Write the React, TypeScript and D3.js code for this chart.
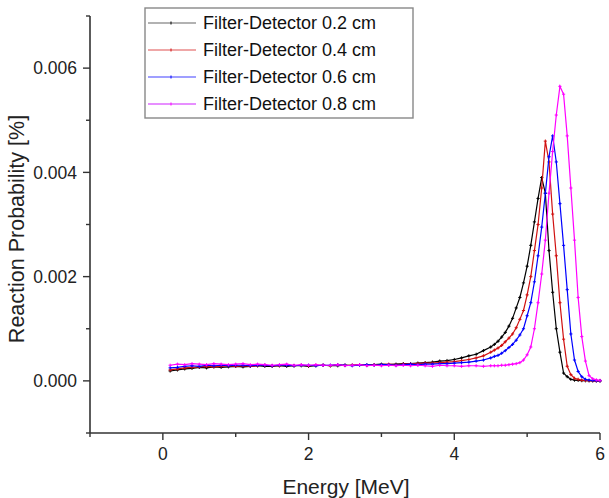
import React from "react";
import * as d3 from "d3";

const energy = [
  0.1, 0.2, 0.3, 0.4, 0.5, 0.6, 0.7, 0.8, 0.9, 1.0,
  1.1, 1.2, 1.3, 1.4, 1.5, 1.6, 1.7, 1.8, 1.9, 2.0,
  2.1, 2.2, 2.3, 2.4, 2.5, 2.6, 2.7, 2.8, 2.9, 3.0,
  3.1, 3.2, 3.3, 3.4, 3.5, 3.6, 3.7, 3.8, 3.9, 4.0,
  4.1, 4.2, 4.3, 4.4, 4.5,
  4.55, 4.6, 4.65, 4.7, 4.75, 4.8, 4.85, 4.9, 4.95, 5.0,
  5.05, 5.1, 5.15, 5.2, 5.25, 5.3, 5.35, 5.4, 5.45, 5.5,
  5.55, 5.6, 5.65, 5.7, 5.75, 5.8, 5.85, 5.9, 5.95, 6.0,
];

// values in units of 1e-4 (%)
const d02 = [
  1.9, 2.1, 2.3, 2.4, 2.6, 2.5, 2.7, 2.6, 2.7, 2.8,
  2.7, 2.8, 2.9, 2.8, 2.8, 2.9, 2.8, 2.9, 2.9, 2.8,
  2.9, 3.0, 2.9, 2.9, 3.0, 3.0, 3.1, 3.0, 3.1, 3.2,
  3.1, 3.2, 3.3, 3.3, 3.4, 3.5, 3.6, 3.8, 3.9, 4.1,
  4.4, 4.8, 5.1, 5.8, 6.5,
  7.0, 7.6, 8.4, 9.3, 10.5, 12.0, 14.0, 16.0, 18.8, 22.0,
  26.0, 30.5, 35.0, 39.0, 36.0, 25.0, 17.0, 10.0, 5.5, 1.5,
  0.8, 0.3, 0.15, 0.1, 0.05, 0.03, 0.02, 0.01, 0, 0,
];
const d04 = [
  2.1, 2.3, 2.5, 2.6, 2.7, 2.8, 2.7, 2.8, 2.9, 2.8,
  2.9, 2.8, 2.9, 3.0, 2.9, 2.9, 3.0, 2.9, 3.0, 2.9,
  3.0, 3.0, 2.9, 3.1, 3.0, 3.0, 3.1, 3.0, 3.1, 3.1,
  3.2, 3.1, 3.2, 3.3, 3.3, 3.4, 3.4, 3.5, 3.6, 3.7,
  3.9, 4.1, 4.4, 4.8, 5.5,
  5.9, 6.3, 6.8, 7.5, 8.2, 9.0, 10.2, 11.8, 13.5, 16.5,
  20.0, 25.0, 30.0, 37.0, 46.0, 42.0, 32.0, 24.0, 15.0, 8.0,
  2.8, 1.2, 0.5, 0.3, 0.15, 0.08, 0.05, 0.03, 0.01, 0,
];
const d06 = [
  2.5, 2.6, 2.8, 2.9, 2.8, 3.0, 2.9, 3.0, 2.9, 3.0,
  3.0, 2.9, 3.0, 3.0, 2.9, 3.0, 3.0, 2.9, 3.0, 3.0,
  2.9, 3.0, 3.0, 3.1, 3.0, 2.9, 3.0, 3.1, 3.0, 3.1,
  3.1, 3.0, 3.1, 3.2, 3.1, 3.2, 3.2, 3.3, 3.3, 3.4,
  3.5, 3.6, 3.8, 4.0, 4.4,
  4.7, 4.9, 5.3, 5.8, 6.4, 7.0, 7.8, 8.8, 10.0, 12.5,
  15.0, 19.0, 24.0, 29.5, 36.0, 43.0, 47.0, 42.0, 34.0, 26.0,
  17.5, 9.0, 4.0, 1.8, 0.8, 0.3, 0.15, 0.08, 0.04, 0.02,
];
const d08 = [
  3.0, 3.2, 3.1, 3.3, 3.2, 3.1, 3.3, 3.2, 3.1, 3.2,
  3.3, 3.1, 3.2, 3.1, 3.0, 3.1, 3.2, 3.0, 3.1, 3.0,
  3.1, 3.0, 3.0, 3.1, 2.9, 3.0, 3.1, 2.9, 3.0, 2.9,
  3.0, 2.9, 3.0, 2.9, 3.0, 2.9, 2.8, 3.0, 2.9, 2.9,
  2.8, 2.9, 2.9, 2.8, 2.9,
  2.9, 2.9, 3.0, 3.0, 3.1, 3.2, 3.3, 3.5, 4.0, 5.0,
  6.5, 10.0, 15.0, 20.5, 27.0, 36.0, 44.0, 51.0, 56.5, 55.0,
  47.0, 37.0, 27.0, 16.0, 8.5, 3.8, 1.0, 0.4, 0.2, 0.1,
];

const seriesNames = [
  "Filter-Detector 0.2 cm",
  "Filter-Detector 0.4 cm",
  "Filter-Detector 0.6 cm",
  "Filter-Detector 0.8 cm",
];
const seriesValues = [d02, d04, d06, d08];
const seriesColors = ["#000000", "#d01010", "#0000ff", "#ff00ff"];
const legendColors = ["#666666", "#e05050", "#4040ff", "#d020ff"];

const xMajor = [0, 2, 4, 6];
const xMinor = [-1, 1, 3, 5];
const yMajor = [0, 0.002, 0.004, 0.006];
const yMinor = [-0.001, 0.001, 0.003, 0.005, 0.007];

const UNIT = 1e-4;
const FONT = "Liberation Sans, Arial, sans-serif";

export default function App() {
  const x = d3.scaleLinear().domain([-1, 6]).range([90, 600]);
  const y = d3.scaleLinear().domain([-0.001, 0.007]).range([433, 16]);
  const line = d3
    .line<[number, number]>()
    .x((d) => x(d[0]))
    .y((d) => y(d[1]));
  const axisColor = "#333";
  const fmt = d3.format(".3f");

  return (
    <svg
      width={609}
      height={498}
      style={{ position: "absolute", left: 0, top: 0, background: "#fff" }}
      fontFamily={FONT}
    >
      <rect x={0} y={0} width={609} height={498} fill="#fff" />
      {/* series */}
      {seriesValues.map((vals, si) => {
        const pts: [number, number][] = energy.map((e, i) => [e, vals[i] * UNIT]);
        return (
          <g key={si}>
            <path d={line(pts) || ""} fill="none" stroke={seriesColors[si]} strokeWidth={1.2} />
            {pts.map((p, i) => (
              <path
                key={i}
                d={`M${x(p[0]) - 1.6},${y(p[1])}h3.2M${x(p[0])},${y(p[1]) - 1.6}v3.2`}
                stroke={seriesColors[si]}
                strokeWidth={1}
              />
            ))}
          </g>
        );
      })}
      {/* y axis */}
      <line x1={90} x2={90} y1={y(0.007)} y2={433} stroke={axisColor} strokeWidth={1.6} />
      {yMajor.map((v) => (
        <g key={"ym" + v}>
          <line x1={83} x2={90} y1={y(v)} y2={y(v)} stroke={axisColor} strokeWidth={1.4} />
          <text x={77} y={y(v)} dy="0.35em" textAnchor="end" fontSize={17.5} fill="#222">
            {fmt(v)}
          </text>
        </g>
      ))}
      {yMinor.map((v) => (
        <line key={"yn" + v} x1={86} x2={90} y1={y(v)} y2={y(v)} stroke={axisColor} strokeWidth={1.4} />
      ))}
      {/* x axis */}
      <line x1={x(-1)} x2={x(6)} y1={433} y2={433} stroke={axisColor} strokeWidth={1.6} />
      {xMajor.map((v) => (
        <g key={"xm" + v}>
          <line x1={x(v)} x2={x(v)} y1={433} y2={440} stroke={axisColor} strokeWidth={1.4} />
          <text x={x(v)} y={460} textAnchor="middle" fontSize={17.5} fill="#222">
            {v}
          </text>
        </g>
      ))}
      {xMinor.map((v) => (
        <line key={"xn" + v} x1={x(v)} x2={x(v)} y1={433} y2={437} stroke={axisColor} strokeWidth={1.4} />
      ))}
      {/* axis titles */}
      <text x={346} y={494} textAnchor="middle" fontSize={21} fill="#222">
        Energy [MeV]
      </text>
      <text
        transform={`translate(24,229) rotate(-90)`}
        textAnchor="middle"
        fontSize={21.5}
        fill="#222"
      >
        Reaction Probability [%]
      </text>
      {/* legend */}
      <rect x={145} y={8} width={268} height={110} fill="#fff" stroke="#888" strokeWidth={1.4} />
      {seriesNames.map((name, i) => {
        const ly = 23 + i * 27;
        return (
          <g key={name}>
            <line x1={148} x2={196} y1={ly} y2={ly} stroke={legendColors[i]} strokeWidth={1.2} />
            <path d={`M171,${ly - 1.5}v3`} stroke={seriesColors[i]} strokeWidth={1} />
            <text x={203} y={ly} dy="0.35em" fontSize={18} fill="#111">
              {name}
            </text>
          </g>
        );
      })}
    </svg>
  );
}
